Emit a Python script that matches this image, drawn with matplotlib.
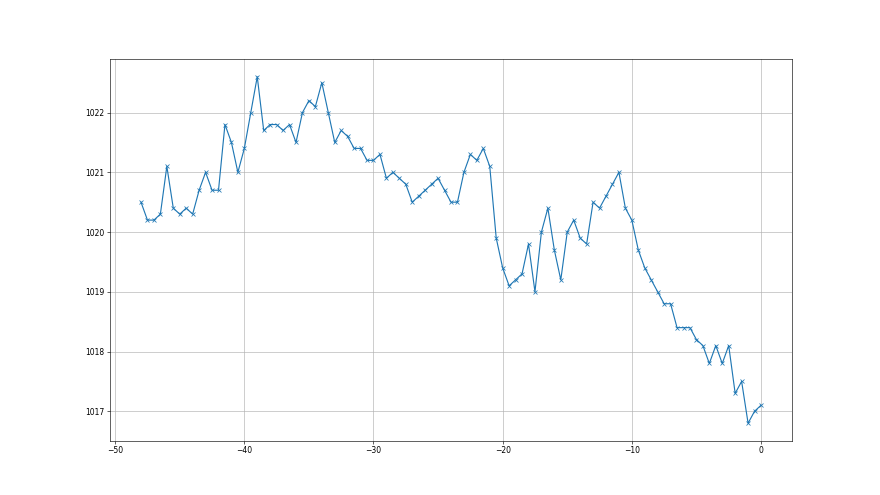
import matplotlib
matplotlib.use("Agg")
import matplotlib.pyplot as plt
import numpy as np

# hours relative to now, step 0.5
hours = np.arange(-48, 0.5, 0.5)

pressure = [
    1020.5, 1020.2, 1020.2, 1020.3, 1021.1, 1020.4, 1020.3, 1020.4, 1020.3, 1020.7,
    1021.0, 1020.7, 1020.7, 1021.8, 1021.5, 1021.0, 1021.4, 1022.0, 1022.6, 1021.7,
    1021.8, 1021.8, 1021.7, 1021.8, 1021.5, 1022.0, 1022.2, 1022.1, 1022.5, 1022.0,
    1021.5, 1021.7, 1021.6, 1021.4, 1021.4, 1021.2, 1021.2, 1021.3, 1020.9, 1021.0,
    1020.9, 1020.8, 1020.5, 1020.6, 1020.7, 1020.8, 1020.9, 1020.7, 1020.5, 1020.5,
    1021.0, 1021.3, 1021.2, 1021.4, 1021.1, 1019.9, 1019.4, 1019.1, 1019.2, 1019.3,
    1019.8, 1019.0, 1020.0, 1020.4, 1019.7, 1019.2, 1020.0, 1020.2, 1019.9, 1019.8,
    1020.5, 1020.4, 1020.6, 1020.8, 1021.0, 1020.4, 1020.2, 1019.7, 1019.4, 1019.2,
    1019.0, 1018.8, 1018.8, 1018.4, 1018.4, 1018.4, 1018.2, 1018.1, 1017.8, 1018.1,
    1017.8, 1018.1, 1017.3, 1017.5, 1016.8, 1017.0, 1017.1,
]

fig = plt.figure(figsize=(16, 9), dpi=55)
plt.plot(hours, pressure, marker="x")
plt.grid(True)
plt.savefig("out.png", dpi=55)
